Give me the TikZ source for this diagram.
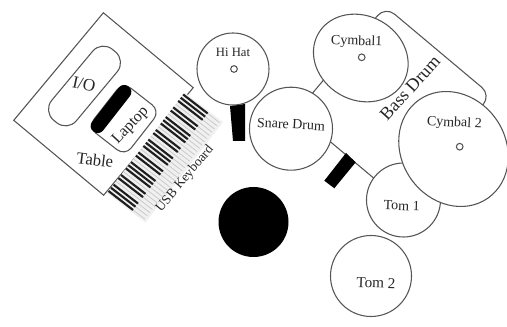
\documentclass[tikz,border=0pt]{standalone}
\usepackage{fontspec}
\setmainfont{Liberation Serif}
\usetikzlibrary{shapes.geometric}
\definecolor{cLine}{RGB}{85,85,85}
\definecolor{cKeyBg}{RGB}{240,240,240}
\definecolor{cKeyGap}{RGB}{200,200,200}
\definecolor{cKeyBlack}{RGB}{30,30,30}
\newcommand{\PX}{0.75pt}
\newcommand{\fsz}[1]{\fontsize{#1}{#1}\selectfont}

\begin{document}
\begin{tikzpicture}[
  x=0.75pt, y=-0.75pt,
  %% ── outlined white furniture and drums ───────────────────────────────
  shell/.style={draw=cLine, fill=white, line width=0.8pt, outer sep=0pt, inner sep=0pt},
  ring/.style={shell, circle},
  oval/.style={shell, ellipse},
  lug/.style={shell, circle, minimum size=5pt},
  blackblock/.style={fill=black, draw=none},
  %% ── rotated captions ─────────────────────────────────────────────────
  L/.style={font=\fsz{10.5}, text=black!85, inner sep=0pt},
]
\useasboundingbox (0,0) rectangle (507,327);

%% ═══════════════════════════════════════════════════════════════════════
%%  TABLE WITH LAPTOP, I/O AND KEYBOARD
%% ═══════════════════════════════════════════════════════════════════════

\node[shell, rotate=-39.8, minimum width=117*\PX, minimum height=140*\PX] (table) at (103.5,104) {};

\node[shell, rotate=50.2, rounded corners=10.5pt, minimum width=92*\PX, minimum height=32*\PX] (io) at (84.5,86) {};
\node[L, font=\fsz{13}, rotate=-12] (ioL) at (84,84) {I/O};

\node[shell, rotate=52, rounded corners=7.5pt, minimum width=57*\PX, minimum height=47*\PX] (laptop) at (124,119) {};
\node[blackblock, rotate=52, rounded corners=5pt, minimum width=57*\PX, minimum height=14*\PX] (screen) at (111,109) {};
\node[L, font=\fsz{12}, rotate=47] (laptopL) at (130.7,126) {Laptop};

\node[L, font=\fsz{12.5}, rotate=-7] (tableL) at (95,160) {Table};

%% keyboard: gaps between white keys first, then black keys in groups of 3 and 2
\begin{scope}[shift={(107,193)}, rotate=52.3]
  \fill[cKeyBg] (0,0) rectangle (127,48.5);
  \foreach \k in {0,...,30}
    \draw[cKeyGap, line width=0.55pt] (2.5+\k*4.067,0) -- (2.5+\k*4.067,46);
  \foreach \k in {0,...,30}{
    \pgfmathtruncatemacro{\n}{mod(\k,7)}
    \ifnum\n=3\relax\else\ifnum\n=6\relax\else
      \draw[cKeyBlack, line width=1.6pt] (2.5+\k*4.067,0) -- (2.5+\k*4.067,31);
    \fi\fi}
\end{scope}
\node[L, font=\fsz{10}, rotate=50] (usbL) at (185,179) {USB Keyboard};

%% ═══════════════════════════════════════════════════════════════════════
%%  DRUM KIT
%% ═══════════════════════════════════════════════════════════════════════

\node[shell, rotate=-40, rounded corners=9pt, minimum width=138*\PX, minimum height=139*\PX] (bass) at (393.5,104) {};
\node[L, font=\fsz{13.5}, rotate=48] (bassL) at (410,88) {Bass Drum};

%% pedals
\fill[black] (230,106) -- (245,104) -- (245,141) -- (233,141) -- cycle;
\fill[black] (346,153) -- (355.7,162.3) -- (334.3,188.3) -- (324.3,180.7) -- cycle;

\node[ring, minimum size=72*\PX] (hihat) at (233,69) {};
\node[lug] (hihatC) at (234,69) {};
\node[L, font=\fsz{9.5}] (hihatL) at (233,52) {Hi Hat};

\node[ring, minimum size=83*\PX] (snare) at (291,128.7) {};
\node[L, rotate=-3] (snareL) at (291,124.3) {Snare Drum};

\node[oval, rotate=-30, minimum width=98*\PX, minimum height=84*\PX] (cymbalA) at (360.8,58) {};
\node[lug] (cymbalAC) at (361.7,57.3) {};
\node[L, rotate=-2] (cymbalAL) at (356.7,41.7) {Cymbal1};

\node[ring, minimum size=74*\PX] (tomA) at (403.5,200) {};
\node[L, rotate=-2] (tomAL) at (401.7,205.7) {Tom 1};

\node[oval, rotate=-55, minimum width=120*\PX, minimum height=104*\PX] (cymbalB) at (453.5,149) {};
\node[lug] (cymbalBC) at (459.7,146.7) {};
\node[L, rotate=-3] (cymbalBL) at (454.3,123.3) {Cymbal 2};

\node[ring, minimum size=81*\PX] (tomB) at (371,276) {};
\node[L, font=\fsz{11.4}, rotate=-2] (tomBL) at (376,283) {Tom 2};

%% stool
\node[ring, fill=black, draw=none, minimum size=70*\PX] (stool) at (253.5,222) {};

\end{tikzpicture}
\end{document}
